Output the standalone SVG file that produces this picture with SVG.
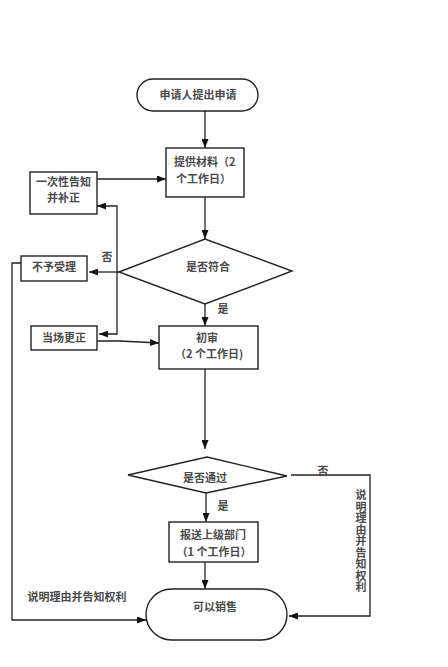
<svg xmlns="http://www.w3.org/2000/svg" width="448" height="667" viewBox="0 0 448 667">
<style>
.s{fill:#fff;stroke:#222;stroke-width:1.4}
.c{fill:none;stroke:#222;stroke-width:1.3}
text{font-family:"Noto Sans CJK SC","Noto Sans",sans-serif;font-size:11px;fill:#4a4a4a;font-weight:bold}
.m{text-anchor:middle}
.v{writing-mode:vertical-rl;letter-spacing:0.5px}
</style>
<defs>
<marker id="a" markerUnits="userSpaceOnUse" markerWidth="9" markerHeight="7" refX="9" refY="3.5" orient="auto">
<path d="M0,0 L9,3.5 L0,7 z" fill="#111"/>
</marker>
</defs>
<rect width="448" height="667" fill="#fff"/>
<g id="connectors">
<path class="c" d="M205,111 L205,148" marker-end="url(#a)"/>
<path class="c" d="M97,179 L166,179" marker-end="url(#a)"/>
<path class="c" d="M205,197 L205,239" marker-end="url(#a)"/>
<path class="c" d="M117,272 L117,206 L97,206" marker-end="url(#a)"/>
<path class="c" d="M117,272 L117,334 L99,334" marker-end="url(#a)"/>
<path class="c" d="M119,272 L89,272" marker-end="url(#a)"/>
<path class="c" d="M205,304 L205,326" marker-end="url(#a)"/>
<path class="c" d="M97,341 L120,341 L159,343" marker-end="url(#a)"/>
<path class="c" d="M205,369 L205,449" marker-end="url(#a)"/>
<path class="c" d="M206,493 L206,522" marker-end="url(#a)"/>
<path class="c" d="M291,475 L370,475 L370,616 L289,616" marker-end="url(#a)"/>
<path class="c" d="M205,562 L205,589" marker-end="url(#a)"/>
<path class="c" d="M21,263 L12,263 L12,620 L146,620" marker-end="url(#a)"/>
<text x="107" y="261" class="m">否</text>
<text x="223" y="313" class="m">是</text>
<text x="323" y="475" class="m">否</text>
<text x="223" y="510" class="m">是</text>
<text x="77" y="601" class="m">说明理由并告知权利</text>
<text x="361" y="489.5" class="v">说明理由并告知权利</text>
</g>
<g id="start">
<rect class="s" x="137" y="79" width="121" height="32" rx="16"/>
<text x="198" y="99" class="m">申请人提出申请</text>
</g>
<g id="materials">
<rect class="s" x="166" y="148" width="78" height="49"/>
<text x="174" y="166">提供材料（2</text>
<text x="176" y="183">个工作日）</text>
</g>
<g id="notify">
<rect class="s" x="30" y="172" width="67" height="42"/>
<text x="63.5" y="185.5" class="m">一次性告知</text>
<text x="63.5" y="201.5" class="m">并补正</text>
</g>
<g id="check">
<polygon class="s" points="119,272 205,239 292,271 205,304"/>
<text x="208" y="271" class="m">是否符合</text>
</g>
<g id="reject">
<rect class="s" x="21" y="256" width="66" height="25"/>
<text x="54" y="271" class="m">不予受理</text>
</g>
<g id="correct">
<rect class="s" x="31" y="326" width="66" height="24"/>
<text x="64" y="342" class="m">当场更正</text>
</g>
<g id="review">
<rect class="s" x="159" y="326" width="99" height="43"/>
<text x="207" y="342" class="m">初审</text>
<text x="209" y="358" class="m">（2 个工作日)</text>
</g>
<g id="pass">
<polygon class="s" points="128,475 207,457 287,476 206,493"/>
<text x="205" y="482" class="m">是否通过</text>
</g>
<g id="report">
<rect class="s" x="169" y="522" width="89" height="40"/>
<text x="213" y="539" class="m">报送上级部门</text>
<text x="214" y="556" class="m">（1 个工作日）</text>
</g>
<g id="sell">
<rect class="s" x="146" y="589" width="141" height="51" rx="25.5"/>
<text x="215" y="611" class="m">可以销售</text>
</g>
</svg>
